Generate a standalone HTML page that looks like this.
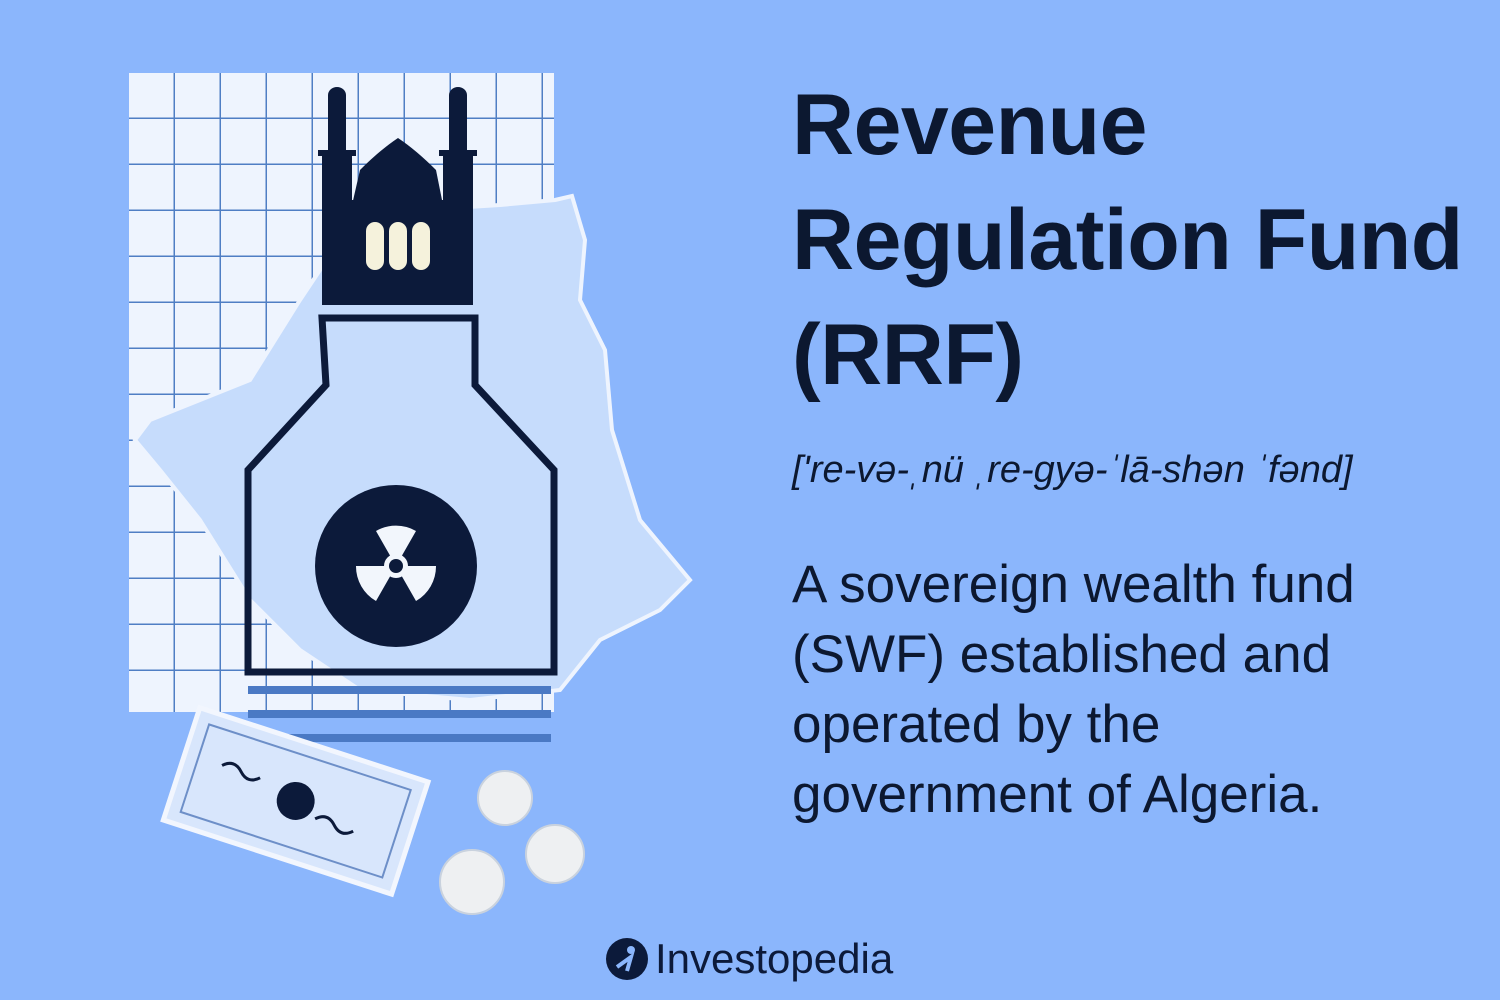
<!DOCTYPE html>
<html><head><meta charset="utf-8"><style>
html,body{margin:0;padding:0;}
body{width:1500px;height:1000px;background:#8bb6fc;position:relative;overflow:hidden;font-family:"Liberation Sans","DejaVu Sans",sans-serif;color:#0c1830;}
.t{position:absolute;left:792px;margin:0;white-space:nowrap;}
</style></head><body>
<svg width="760" height="1000" style="position:absolute;left:0;top:0">
  <defs>
    <pattern id="grid" x="129" y="73" width="46" height="46" patternUnits="userSpaceOnUse">
      <rect width="46" height="46" fill="#eef4fe"/>
      <path d="M46 0V46M0 46H46" stroke="#4f7ec4" stroke-width="3" fill="none"/>
    </pattern>
  </defs>
  <rect x="129" y="73" width="425" height="639" fill="url(#grid)"/>
  <path d="M555 200 L572 196 L585 240 L580 300 L605 350 L612 430 L640 520 L690 580 L660 610 L600 640 L560 690 L470 700 L360 690 L300 650 L250 600 L200 520 L160 470 L135 440 L150 420 L200 400 L250 380 L300 300 L340 240 L420 210 L500 205 Z" fill="#c6dcfc" stroke="#eef4fe" stroke-width="4"/>
  <g fill="#0c1a3a">
    <rect x="322" y="150" width="30" height="155"/><rect x="443" y="150" width="30" height="155"/>
    <rect x="328" y="95" width="18" height="60"/><ellipse cx="337" cy="95" rx="9" ry="8"/>
    <rect x="449" y="95" width="18" height="60"/><ellipse cx="458" cy="95" rx="9" ry="8"/>
    <rect x="318" y="150" width="38" height="6"/><rect x="439" y="150" width="38" height="6"/>
    <path d="M352 205 L360 170 Q380 150 398 138 Q416 150 436 170 L443 205 Z"/>
    <rect x="352" y="200" width="91" height="105"/>
    <g fill="#f5f2dc"><rect x="366" y="222" width="18" height="48" rx="9"/><rect x="389" y="222" width="18" height="48" rx="9"/><rect x="412" y="222" width="18" height="48" rx="9"/></g>
  </g>
  <path d="M322 318 H475 V385 L554 470 V672 H248 V470 L326 385 Z" fill="none" stroke="#0c1a3a" stroke-width="7"/>
  <g stroke="#4a79c4" stroke-width="8">
    <line x1="248" y1="690" x2="551" y2="690"/><line x1="248" y1="714" x2="551" y2="714"/><line x1="248" y1="738" x2="551" y2="738"/>
  </g>
  <g>
    <circle cx="396" cy="566" r="81" fill="#0c1a3a"/>
    <path d="M396 566 L376 531 A40 40 0 0 1 416 531 Z M396 566 L436 566 A40 40 0 0 1 416 601 Z M396 566 L376 601 A40 40 0 0 1 356 566 Z" fill="#f2f6fc"/>
    <circle cx="396" cy="566" r="12" fill="#f2f6fc"/><circle cx="396" cy="566" r="7" fill="#0c1a3a"/>
  </g>
  <g transform="rotate(18 296 800)">
    <rect x="176" y="742" width="240" height="118" fill="#d8e6fc" stroke="#f2f6fe" stroke-width="5"/>
    <rect x="190" y="755" width="212" height="92" fill="none" stroke="#6d8fc8" stroke-width="2"/>
    <circle cx="296" cy="801" r="19" fill="#0c1a3a"/>
    <path d="M215 790 q10 -10 20 0 t20 0 M320 812 q10 -10 20 0 t20 0" stroke="#0c1a3a" stroke-width="3" fill="none"/>
  </g>
  <g fill="#eef0f2" stroke="#c9d2de" stroke-width="2">
    <circle cx="505" cy="798" r="27"/><circle cx="555" cy="854" r="29"/><circle cx="472" cy="882" r="32"/>
  </g>
</svg>
<h1 class="t" style="top:68px;font-size:86px;line-height:115px;font-weight:bold;letter-spacing:-0.5px">Revenue<br>Regulation Fund<br>(RRF)</h1>
<p class="t" style="top:447px;font-size:38px;font-style:italic;line-height:46px">['re-və-ˌnü ˌre-gyə-ˈlā-shən ˈfənd]</p>
<p class="t" style="top:550px;font-size:53px;line-height:70px">A sovereign wealth fund<br>(SWF) established and<br>operated by the<br>government of Algeria.</p>
<div style="position:absolute;left:605px;top:934px;height:50px;display:flex;align-items:center">
  <svg width="44" height="44"><circle cx="22" cy="22" r="21" fill="#0c1a3a"/><circle cx="26" cy="13" r="4" fill="#8bb6fc"/><path d="M12 30 L26 20 L22 34" stroke="#8bb6fc" stroke-width="4" fill="none"/></svg>
  <span style="font-size:42px;margin-left:6px;color:#0c1a3a">Investopedia</span>
</div>
</body></html>
